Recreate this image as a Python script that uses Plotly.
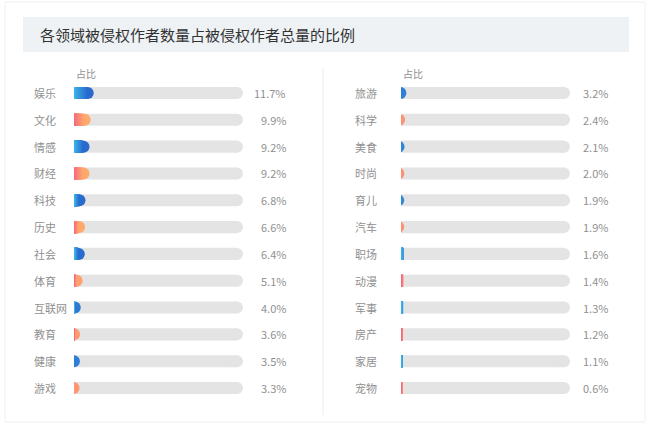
import plotly.graph_objects as go

# Data
left_cats = ["娱乐", "文化", "情感", "财经", "科技", "历史", "社会", "体育", "互联网", "教育", "健康", "游戏"]
left_vals = [11.7, 9.9, 9.2, 9.2, 6.8, 6.6, 6.4, 5.1, 4.0, 3.6, 3.5, 3.3]
right_cats = ["旅游", "科学", "美食", "时尚", "育儿", "汽车", "职场", "动漫", "军事", "房产", "家居", "宠物"]
right_vals = [3.2, 2.4, 2.1, 2.0, 1.9, 1.9, 1.6, 1.4, 1.3, 1.2, 1.1, 0.6]

TITLE = "各领域被侵权作者数量占被侵权作者总量的比例"
HEADER = "占比"

W, H = 650, 427
FONT = "Noto Sans CJK SC"
# gradient end points (start, end)
BLUE = ((0x3A, 0xB6, 0xEA), (0x29, 0x6A, 0xCF))
RED = ((0xF7, 0x65, 0x80), (0xFF, 0xAA, 0x6C))
TRACK = "#E4E4E4"
STEPS = 12
BAR_PX = 169            # track length in pixels
BAR_W = 0.45            # bar thickness in category units (~12px)
DOT = 12                # cap diameter in pixels
CAP = DOT / 2 / BAR_PX * 100   # cap radius in data units
MIN_CAP = 1.8           # below this a bar is drawn as a plain sliver


def px_x(x):
    return x / W


def px_y(y):
    return 1 - y / H


def mix(pair, t):
    a, b = pair
    return "rgb({},{},{})".format(*[round(a[i] + (b[i] - a[i]) * t) for i in range(3)])


def reach(v):
    # short bars only show the first part of the gradient
    return min(1.0, 0.45 + v / 12)


fig = go.Figure()

# (cats, vals, base x, base y, top x, top y, label px, value px)
panels = [
    (left_cats, left_vals, "x", "y", "x3", "y3", 32, 288),
    (right_cats, right_vals, "x2", "y2", "x4", "y4", 353, 610),
]

annotations = []
for cats, vals, xa, ya, xt, yt, label_x, value_x in panels:
    grads = [BLUE if i % 2 == 0 else RED for i in range(len(cats))]

    # grey track with round end
    fig.add_trace(go.Bar(
        x=[100 - CAP] * len(cats), y=cats, orientation="h",
        xaxis=xa, yaxis=ya, width=BAR_W,
        marker=dict(color=TRACK, line=dict(width=0)),
        hoverinfo="skip", showlegend=False,
    ))
    fig.add_trace(go.Scatter(
        x=[100 - CAP] * len(cats), y=cats, mode="markers",
        xaxis=xa, yaxis=ya,
        marker=dict(symbol="circle", size=DOT, color=TRACK, line=dict(width=0)),
        hoverinfo="skip", showlegend=False,
    ))

    # round end of each value bar (clipped at the axis start for short bars)
    capped = [i for i, v in enumerate(vals) if v >= MIN_CAP]
    fig.add_trace(go.Scatter(
        x=[vals[i] - CAP for i in capped], y=[cats[i] for i in capped], mode="markers",
        xaxis=xa, yaxis=ya, cliponaxis=True,
        marker=dict(symbol="circle", size=DOT, line=dict(width=0),
                    color=[mix(grads[i], reach(vals[i])) for i in capped]),
        hoverinfo="skip", showlegend=False,
    ))

    # gradient body on an overlaid subplot, longest segment first
    body = [max(v - CAP, 0) if v >= MIN_CAP else v for v in vals]
    for k in range(STEPS):
        frac = 1 - k / STEPS
        fig.add_trace(go.Bar(
            x=[b * frac for b in body], y=cats, orientation="h",
            xaxis=xt, yaxis=yt, width=BAR_W,
            marker=dict(color=[mix(g, frac * reach(v)) for g, v in zip(grads, vals)],
                        line=dict(width=0)),
            hoverinfo="skip", showlegend=False,
        ))

    for c, v in zip(cats, vals):
        annotations.append(dict(
            x=px_x(label_x), xref="paper", y=c, yref=ya, text=c,
            xanchor="left", showarrow=False,
            font=dict(family=FONT, size=11, color="#909090"),
        ))
        annotations.append(dict(
            x=px_x(value_x), xref="paper", y=c, yref=ya, text=f"{v}%",
            xanchor="right", showarrow=False,
            font=dict(family=FONT, size=11, color="#909090"),
        ))

# headers
for hx in [74, 401]:
    annotations.append(dict(
        x=px_x(hx), y=px_y(74), xref="paper", yref="paper", text=HEADER,
        xanchor="left", yanchor="middle", showarrow=False,
        font=dict(family=FONT, size=10, color="#909090"),
    ))

# title
annotations.append(dict(
    x=px_x(38), y=px_y(35), xref="paper", yref="paper", text=TITLE,
    xanchor="left", yanchor="middle", showarrow=False,
    font=dict(family=FONT, size=15, color="#333333"),
))

shapes = [
    # outer card
    dict(type="rect", xref="paper", yref="paper",
         x0=px_x(5), x1=px_x(645), y0=px_y(422), y1=px_y(2),
         line=dict(color="#F0F0F0", width=1), fillcolor="rgba(0,0,0,0)", layer="below"),
    # title box
    dict(type="rect", xref="paper", yref="paper",
         x0=px_x(23), x1=px_x(629), y0=px_y(52), y1=px_y(17),
         line=dict(width=0), fillcolor="#EEF2F5", layer="below"),
    # divider
    dict(type="line", xref="paper", yref="paper",
         x0=px_x(323), x1=px_x(323), y0=px_y(415), y1=px_y(68),
         line=dict(color="#EBEBEB", width=1)),
]

n = len(left_cats)
y_top, y_bot = px_y(79.6), px_y(401.4)
xcommon = dict(range=[0, 100], visible=False, fixedrange=True)
ycommon = dict(range=[n - 0.5, -0.5], visible=False, fixedrange=True)
left_dom = [px_x(74), px_x(243)]
right_dom = [px_x(401), px_x(570)]

fig.update_layout(
    width=W, height=H,
    margin=dict(l=0, r=0, t=0, b=0),
    paper_bgcolor="white", plot_bgcolor="rgba(0,0,0,0)",
    barmode="overlay",
    xaxis=dict(domain=left_dom, anchor="y", **xcommon),
    yaxis=dict(domain=[y_bot, y_top], anchor="x", **ycommon),
    xaxis2=dict(domain=right_dom, anchor="y2", **xcommon),
    yaxis2=dict(domain=[y_bot, y_top], anchor="x2", **ycommon),
    xaxis3=dict(overlaying="x", anchor="y3", **xcommon),
    yaxis3=dict(overlaying="y", anchor="x3", **ycommon),
    xaxis4=dict(overlaying="x2", anchor="y4", **xcommon),
    yaxis4=dict(overlaying="y2", anchor="x4", **ycommon),
    annotations=annotations,
    shapes=shapes,
    font=dict(family=FONT),
)

fig.write_html("out.html", config={"displayModeBar": False},
               post_script="document.body.style.margin='0';")
